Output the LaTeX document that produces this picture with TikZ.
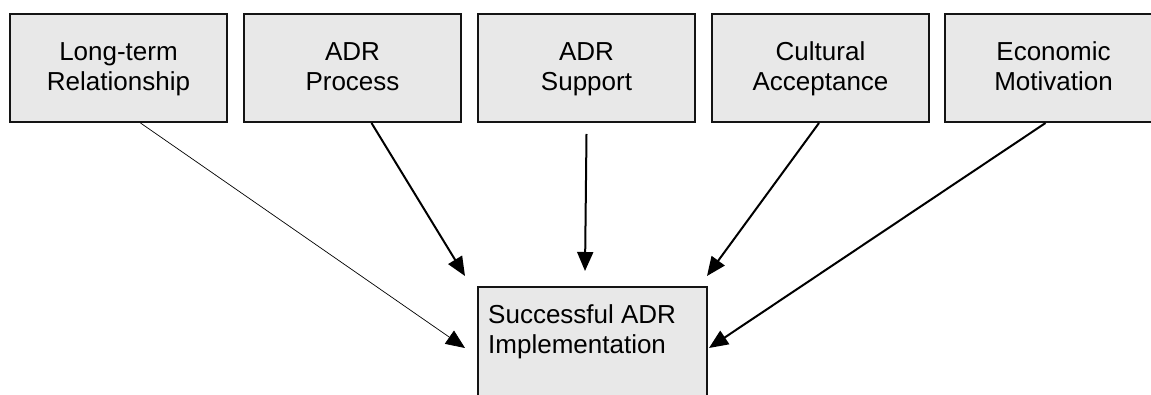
\documentclass[tikz,border=0pt]{standalone}
\usepackage{fontspec}
\setmainfont{Liberation Sans}
\usetikzlibrary{arrows.meta,calc}
\definecolor{boxfill}{RGB}{232,232,232}
\definecolor{boxline}{RGB}{20,20,20}
\newcommand{\toprule}{\rule{0pt}{24pt}}
\tikzset{
  topbox/.style={draw=boxline, line width=2pt, fill=boxfill, minimum width=217pt,
    minimum height=108pt, align=center, inner sep=0pt,
    font=\fontsize{26}{30}\selectfont, anchor=north west},
  botbox/.style={draw=boxline, line width=2pt, fill=boxfill, minimum width=229pt,
    minimum height=200pt, inner sep=0pt, anchor=north west},
  boxtext/.style={font=\fontsize{26}{30}\selectfont, align=left, inner sep=0pt, anchor=base west},
  arr/.style={line width=2pt, -{Triangle[length=19pt,width=16pt]}},
  thinarr/.style={line width=0.7pt, -{Triangle[length=19pt,width=16pt]}}
}
\begin{document}
\begin{tikzpicture}[x=1pt,y=-1pt]
\useasboundingbox (0,0) rectangle (1151,395);
\clip (0,0) rectangle (1151,395);
\node[topbox] (lt) at (9,13) {\toprule Long-term\\Relationship\strut};
\node[topbox] (ap) at (243,13) {\toprule ADR\\Process\strut};
\node[topbox] (as) at (477,13) {\toprule ADR\\Support\strut};
\node[topbox] (ca) at (711,13) {\toprule Cultural\\Acceptance\strut};
\node[topbox] (em) at (944,13) {\toprule Economic\\Motivation\strut};
\node[botbox] (succ) at (477,286) {};
\node[boxtext] (succtext) at (488,353) {Successful ADR\\Implementation};
\coordinate (e1) at ($(succ.north west)+(-12,62)$);
\coordinate (e2) at ($(succ.north west)+(-12,-10)$);
\coordinate (e3) at ($(succ.north west)+(108,-15)$);
\coordinate (e4) at ($(succ.north east)+(-1,-10)$);
\coordinate (e5) at ($(succ.north east)+(1,62)$);
\draw[thinarr] ($(lt.south)+(22,0)$) -- (e1);
\draw[arr] ($(ap.south)+(19,0)$) -- (e2);
\draw[arr] ($(as.south)+(0,11)$) -- (e3);
\draw[arr] ($(ca.south)+(-1.5,0)$) -- (e4);
\draw[arr] ($(em.south)+(-8,0)$) -- (e5);
\end{tikzpicture}
\end{document}
